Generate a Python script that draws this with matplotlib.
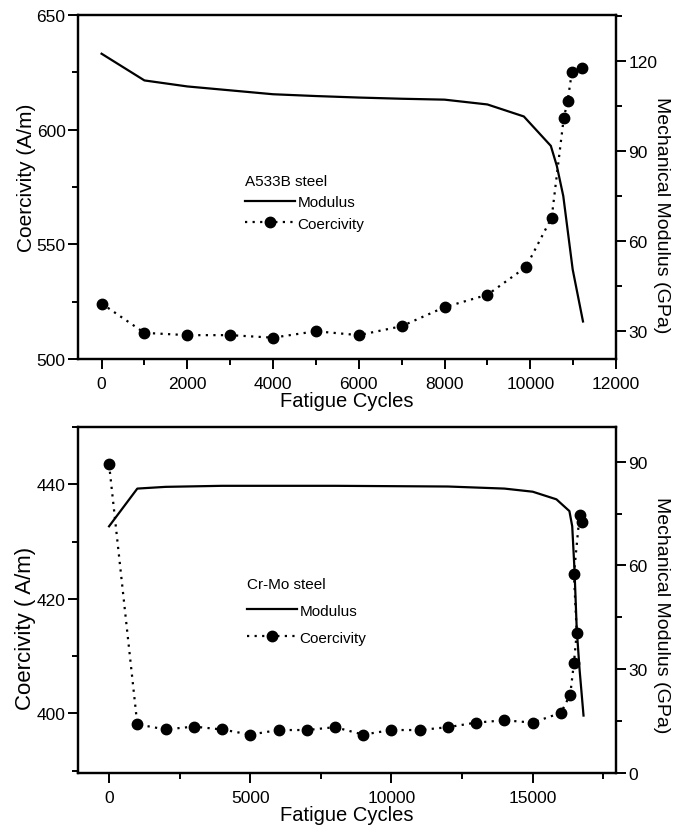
import matplotlib
matplotlib.use("Agg")
import matplotlib.pyplot as plt
from matplotlib.ticker import MultipleLocator

plt.rcParams['font.family'] = ['Liberation Sans', 'DejaVu Sans']

# ---- A533B steel ----
a533_coer_cycles = [0, 1000, 2000, 3000, 4000, 5000, 6000, 7000, 8000, 9000,
                    9900, 10500, 10780, 10870, 10970, 11200]
a533_coercivity = [524.2, 511.4, 510.4, 510.4, 509.3, 512.1, 510.4, 514.3, 522.6, 528.0,
                   540.1, 561.7, 604.9, 612.3, 625.0, 626.9]
a533_mod_cycles = [0, 1000, 2000, 3000, 4000, 5000, 6000, 7000, 8000, 9000,
                   9850, 10480, 10620, 10770, 10910, 10990, 11230]
a533_modulus = [122.5, 113.6, 111.6, 110.3, 109.0, 108.4, 107.9, 107.5, 107.2, 105.6,
                101.6, 91.8, 85.1, 75.1, 59.5, 50.6, 33.3]

# ---- Cr-Mo steel ----
crmo_coer_cycles = [0, 1000, 2000, 3000, 4000, 5000, 6000, 7000, 8000, 9000,
                    10000, 11000, 12000, 13000, 14000, 15000, 16000, 16330,
                    16460, 16560, 16460, 16660, 16760]
crmo_coercivity = [443.5, 398.1, 397.2, 397.7, 397.2, 396.3, 397.1, 397.1, 397.6, 396.3,
                   397.1, 397.1, 397.6, 398.4, 398.8, 398.4, 400.1, 403.3,
                   408.8, 414.1, 424.3, 434.6, 433.4]
crmo_mod_cycles = [0, 1000, 2000, 4000, 6000, 8000, 10000, 12000, 14000, 15000,
                   15840, 16300, 16400, 16480, 16560, 16660, 16800]
crmo_modulus = [71.3, 82.2, 82.7, 83.0, 83.0, 83.0, 82.9, 82.8, 82.2, 81.3,
                79.1, 75.7, 71.3, 58.8, 41.5, 29.9, 16.6]

W, H = 673, 829
fig = plt.figure(figsize=(W / 100, H / 100), dpi=100)


def frac_rect(left, top, right, bottom):
    return [left / W, 1 - bottom / H, (right - left) / W, (bottom - top) / H]


XLBL = 14.5
TICK = 12.5
LEG = 11


def style_axis(ax):
    ax.tick_params(which='both', direction='out', labelsize=TICK, width=1.4, pad=2)
    ax.tick_params(which='major', length=7)
    ax.tick_params(which='minor', length=4)
    ax.tick_params(axis='x', which='both', pad=5)
    for s in ax.spines.values():
        s.set_linewidth(1.6)


def panel(rect, xc, yc, xm, ym, xlim, ylim, ylim2, xmaj, xmin, ymaj, ymin, y2maj, y2min,
          ylabel, title, leg_xy, leg_spacing, left_lab, right_lab):
    ax = fig.add_axes(rect)
    ax2 = ax.twinx()
    ax.set_xlim(*xlim)
    ax.set_ylim(*ylim)
    ax2.set_ylim(*ylim2)
    lc, = ax.plot(xc, yc, linestyle=(0, (1, 2.4)), color='black', lw=1.6,
                  marker='o', markersize=7.5, label='Coercivity')
    lm, = ax2.plot(xm, ym, linestyle='-', color='black', lw=1.6, label='Modulus')
    ax.xaxis.set_major_locator(MultipleLocator(xmaj))
    ax.xaxis.set_minor_locator(MultipleLocator(xmin))
    ax.yaxis.set_major_locator(MultipleLocator(ymaj))
    ax.yaxis.set_minor_locator(MultipleLocator(ymin))
    ax2.yaxis.set_major_locator(MultipleLocator(y2maj))
    ax2.yaxis.set_minor_locator(MultipleLocator(y2min))
    style_axis(ax)
    style_axis(ax2)
    ax.set_xlabel('Fatigue Cycles', fontsize=XLBL, labelpad=0)
    ax.set_ylabel(ylabel, fontsize=left_lab[0])
    ax.yaxis.set_label_coords(-0.078, left_lab[1])
    ax2.set_ylabel('Mechanical Modulus (GPa)', fontsize=right_lab[0], rotation=270)
    ax2.yaxis.set_label_coords(1.10, right_lab[1])
    ax.legend([lm, lc], ['Modulus', 'Coercivity'], title=title,
              loc='upper left', bbox_to_anchor=leg_xy,
              bbox_transform=fig.transFigure, frameon=False,
              fontsize=LEG, title_fontsize=LEG, alignment='left',
              handlelength=3.3, handletextpad=0.15, labelspacing=leg_spacing,
              borderaxespad=0, borderpad=0)
    return ax, ax2


panel(frac_rect(78, 16, 616, 360),
      a533_coer_cycles, a533_coercivity, a533_mod_cycles, a533_modulus,
      (-550, 12000), (500, 650), (20.8, 135.4),
      2000, 1000, 50, 25, 30, 15,
      'Coercivity (A/m)', 'A533B steel', (245 / W, 1 - 175 / H), 0.48,
      (15, 0.53), (14, 0.42))

panel(frac_rect(78, 428, 616, 774),
      crmo_coer_cycles, crmo_coercivity, crmo_mod_cycles, crmo_modulus,
      (-1100, 17950), (389.6, 450), (0, 100),
      5000, 2500, 20, 10, 30, 15,
      'Coercivity ( A/m)', 'Cr-Mo steel', (247 / W, 1 - 578 / H), 0.84,
      (16, 0.42), (14, 0.46))

fig.savefig('out.png', dpi=100)
